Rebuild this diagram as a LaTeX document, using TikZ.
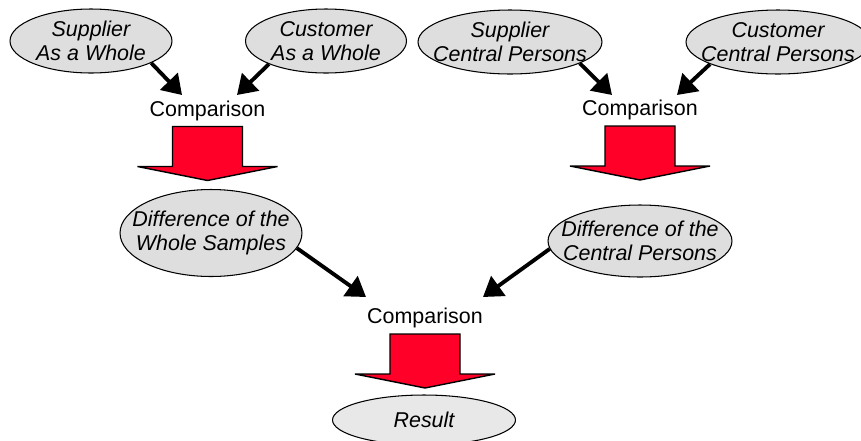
\documentclass[tikz,border=0pt]{standalone}
\usepackage{fontspec}
\setmainfont{Liberation Sans}
\usepackage{tikz}
\usetikzlibrary{arrows.meta,positioning,shapes.geometric}
\definecolor{ovalgray}{RGB}{222,222,222}
\definecolor{blockred}{RGB}{255,0,40}
\tikzset{
  oval/.style={ellipse, draw=black, line width=0.6pt, fill=ovalgray, inner xsep=-1cm, inner ysep=0pt,
               align=center, font=\fontsize{12.2}{13.6}\selectfont\itshape},
  word/.style={inner sep=0pt, font=\fontsize{12.2}{13.6}\selectfont},
  arrow/.style={-{Triangle[length=3.8mm, width=4.8mm]}, line width=2.2pt, black},
  bigarrow/.style={draw=black, line width=0.8pt, fill=blockred, line join=miter},
}
\begin{document}
\begin{tikzpicture}[x=0.02cm, y=-0.02cm]
\clip (0,0) rectangle (861,440);
% top row
\node[oval, minimum width=3.24cm, minimum height=1.28cm] (supA) at (91,41) {Supplier\\As a Whole};
\node[oval, minimum width=3.22cm, minimum height=1.28cm] (cusA) at (326,41) {Customer\\As a Whole};
\node[oval, minimum width=3.68cm, minimum height=1.28cm] (supC) at (510,42) {Supplier\\Central Persons};
\node[oval, minimum width=3.68cm, minimum height=1.28cm] (cusC) at (778,42) {Customer\\Central Persons};
% comparisons
\node[word] (cmpL) at (207.5,110.5) {Comparison};
\node[word] (cmpR) at (640,110) {Comparison};
\node[word] (cmpB) at (425,318) {Comparison};
% differences and result
\node[oval, minimum width=3.64cm, minimum height=1.74cm] (diffW) at (211,233) {Difference of the\\Whole Samples};
\node[oval, minimum width=3.68cm, minimum height=1.44cm] (diffC) at (640,241) {Difference of the\\Central Persons};
\node[oval, minimum width=3.66cm, minimum height=1.0cm, fill=ovalgray!70!white] (res) at (424,420) {Result};

\foreach \a/\ang/\b/\dx/\dy in {supA/-20/cmpL/-25.5/-15.5, cusA/-158.6/cmpL/29.5/-15.5,
    supC/-17.2/cmpR/-28/-15, cusC/-162.4/cmpR/37/-15,
    diffW/-10.1/cmpB/-59/-21, diffC/-175.4/cmpB/58/-21}
  \draw[arrow] (\a.\ang) -- ([shift={(\dx,\dy)}]\b.center);

\foreach \c in {cmpL,cmpR,cmpB}
  \draw[bigarrow] ([shift={(-35,16)}]\c.center) -- ++(0,40) -- ++(-35,0) -- ++(70,14)
    -- ++(70,-14) -- ++(-35,0) -- ++(0,-40) -- cycle;
\end{tikzpicture}
\end{document}
